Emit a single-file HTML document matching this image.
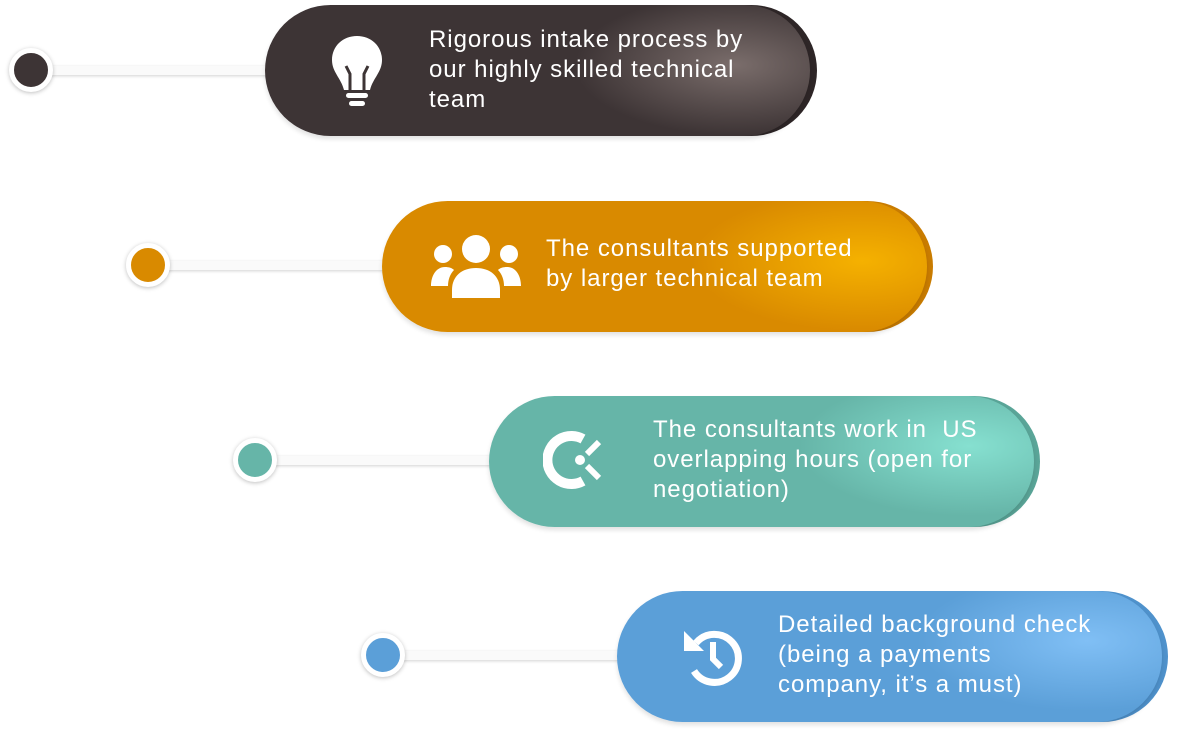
<!DOCTYPE html>
<html><head><style>
body{margin:0;width:1179px;height:735px;background:#fff;position:relative;overflow:hidden;font-family:"Liberation Sans",sans-serif}
.line{position:absolute;height:9px;background:#fafafa;box-shadow:0 1px 3px rgba(0,0,0,.18)}
.dot{position:absolute;width:34px;height:34px;border-radius:50%;border:5px solid #fff;box-shadow:0 1px 4px rgba(0,0,0,.25)}
.back{position:absolute;height:131px;border-radius:66px}
.pill{position:absolute;height:131px;border-radius:66px;box-shadow:0 3px 5px rgba(0,0,0,.12)}
.txt{position:absolute;color:#fff;font-size:24px;line-height:30px;letter-spacing:0.95px;white-space:nowrap}
svg{position:absolute}
</style></head><body>

<!-- row1 -->
<div class="line" style="left:40px;top:66px;width:240px"></div>
<div class="dot" style="left:9px;top:48px;background:#3d3435"></div>
<div class="back" style="left:275px;top:5px;width:542px;background:#2e2627"></div>
<div class="pill" style="left:265px;top:5px;width:545px;background:radial-gradient(ellipse 160px 70px at 470px 60px,#7a6d6b,#3d3435 100%)"></div>
<svg style="left:328px;top:34px" width="58" height="76" viewBox="0 0 56 76">
<path d="M28 2C14 2 3 12 3 26c0 12 9 18 12 30h26c3-12 12-18 12-30C53 12 42 2 28 2z" fill="#fff"/>
<path d="M21 56V40l-4-8M35 56V40l4-8" stroke="#3d3435" stroke-width="3" fill="none"/>
<rect x="17" y="59" width="22" height="5" rx="2.5" fill="#fff"/><rect x="20" y="67" width="16" height="5" rx="2.5" fill="#fff"/>
</svg>
<div class="txt" style="left:429px;top:25px">Rigorous intake process by<br>our highly skilled technical<br>team</div>

<!-- row2 -->
<div class="line" style="left:160px;top:261px;width:240px"></div>
<div class="dot" style="left:126px;top:243px;background:#d98a00"></div>
<div class="back" style="left:392px;top:201px;width:541px;background:#c97c00"></div>
<div class="pill" style="left:382px;top:201px;width:545px;background:radial-gradient(ellipse 170px 70px at 480px 60px,#f5b100,#d98a00 100%)"></div>
<svg style="left:430px;top:234px" width="92" height="66" viewBox="0 0 92 66">
<circle cx="46" cy="15" r="14" fill="#fff"/><circle cx="13" cy="20" r="9" fill="#fff"/><circle cx="79" cy="20" r="9" fill="#fff"/>
<path d="M22 64v-8c0-14 10-22 24-22s24 8 24 22v8z" fill="#fff"/>
<path d="M1 52c0-10 5-19 14-19 4 0 7 1 9 3-4 4-6 10-6 16z" fill="#fff"/>
<path d="M91 52c0-10-5-19-14-19-4 0-7 1-9 3 4 4 6 10 6 16z" fill="#fff"/>
</svg>
<div class="txt" style="left:546px;top:234px">The consultants supported<br>by larger technical team</div>

<!-- row3 -->
<div class="line" style="left:265px;top:456px;width:240px"></div>
<div class="dot" style="left:233px;top:438px;background:#66b5a8"></div>
<div class="back" style="left:499px;top:396px;width:541px;background:#5aa598"></div>
<div class="pill" style="left:489px;top:396px;width:545px;background:radial-gradient(ellipse 170px 70px at 480px 50px,#86e0d0,#66b5a8 100%)"></div>
<svg style="left:543px;top:427px" width="64" height="66" viewBox="0 0 64 66">
<path d="M40 54A24 24 0 1 1 40 12" stroke="#fff" stroke-width="10" fill="none"/>
<circle cx="37" cy="33" r="5" fill="#fff"/>
<path d="M44 27l12-12M44 39l12 12" stroke="#fff" stroke-width="6"/>
</svg>
<div class="txt" style="left:653px;top:415px">The consultants work in &nbsp;US<br>overlapping hours (open for<br>negotiation)</div>

<!-- row4 -->
<div class="line" style="left:395px;top:651px;width:240px"></div>
<div class="dot" style="left:361px;top:633px;background:#5b9fd8"></div>
<div class="back" style="left:627px;top:591px;width:541px;background:#4f92cc"></div>
<div class="pill" style="left:617px;top:591px;width:545px;background:radial-gradient(ellipse 170px 70px at 470px 50px,#80bff5,#5b9fd8 100%)"></div>
<svg style="left:682px;top:625px" width="62" height="62" viewBox="0 0 62 62">
<path d="M14 18A24 24 0 1 1 12 46" stroke="#fff" stroke-width="7" fill="none"/>
<path d="M2 6v20h20z" fill="#fff"/>
<path d="M31 17v17l8 8" stroke="#fff" stroke-width="6" fill="none"/>
</svg>
<div class="txt" style="left:778px;top:610px">Detailed background check<br>(being a payments<br>company, it’s a must)</div>

</body></html>
